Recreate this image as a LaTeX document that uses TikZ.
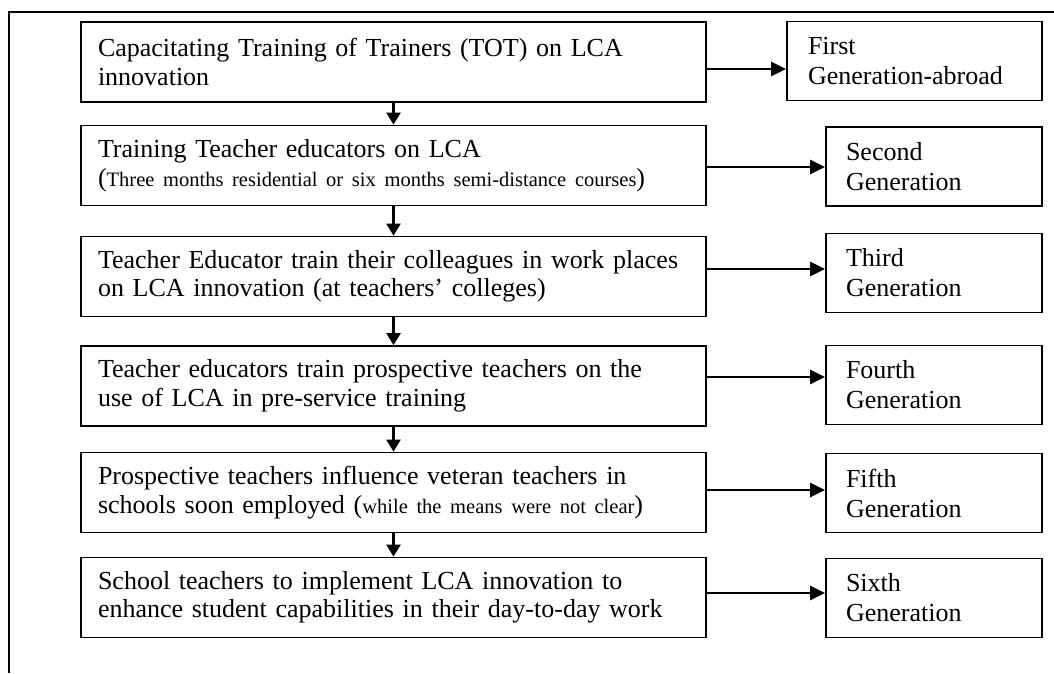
\documentclass[tikz,border=0pt]{standalone}
\usepackage{fontspec}
\setmainfont{Liberation Serif}
\usetikzlibrary{arrows.meta}
\tikzset{
  stage/.style={draw, line width=1.8pt, minimum width=625pt, minimum height=80pt,
    text width=591pt, inner xsep=17pt, align=left,
    font=\fontsize{26}{28.5}\selectfont},
  gen/.style={draw, line width=1.8pt, minimum width=216pt, minimum height=79pt,
    text width=176pt, inner xsep=20pt, align=left,
    font=\fontsize{26}{30}\selectfont},
  arr/.style={line width=2.4pt, -{Triangle[length=12pt,width=14pt]}},
  sidearr/.style={arr, -{Triangle[length=15pt,width=14pt]}}
}
\newcommand{\sm}[1]{{\fontsize{20.5}{28.5}\selectfont #1}}
\begin{document}
\begin{tikzpicture}[x=1pt,y=-1pt]
      \useasboundingbox (0,0) rectangle (1054,673);
      \draw[line width=2pt] (9,673) -- (9,12) -- (1054,12);
      \draw
        (393.5,62) node[stage] (b1) {Capacitating Training of Trainers (TOT) on LCA\\ innovation}
        (393.5,165.5) node[stage] (b2) {Training Teacher educators on LCA\\ (\sm{Three months residential or six months semi-distance courses})}
        (393.5,276.5) node[stage] (b3) {Teacher Educator train their colleagues in work places\\ on LCA innovation (at teachers' colleges)}
        (393.5,386) node[stage] (b4) {Teacher educators train prospective teachers on the\\ use of LCA in pre-service training}
        (393.5,492.5) node[stage] (b5) {Prospective teachers influence veteran teachers in\\ schools soon employed (\sm{while the means were not clear})}
        (393.5,597.5) node[stage] (b6) {School teachers to implement LCA innovation to\\ enhance student capabilities in their day-to-day work};
      \draw
        (914.5,61) node[gen, minimum width=255pt, text width=213pt] (g1) {First\\ Generation-abroad}
        (934,166.5) node[gen] (g2) {Second\\ Generation}
        (934,273) node[gen] (g3) {Third\\ Generation}
        (934,385) node[gen] (g4) {Fourth\\ Generation}
        (934,493) node[gen] (g5) {Fifth\\ Generation}
        (934,598) node[gen] (g6) {Sixth\\ Generation};
      \begin{scope}[arr]
        \draw (b1) to (b2);
        \draw (b2) to (b3);
        \draw (b3) to (b4);
        \draw (b4) to (b5);
        \draw (b5) to (b6);
        \foreach \i/\y in {1/69,2/167,3/269,4/377,5/490,6/593}
          \draw[sidearr] (b\i.east |- 0,\y) to (g\i.west |- 0,\y);
      \end{scope}
    \end{tikzpicture}
\end{document}
